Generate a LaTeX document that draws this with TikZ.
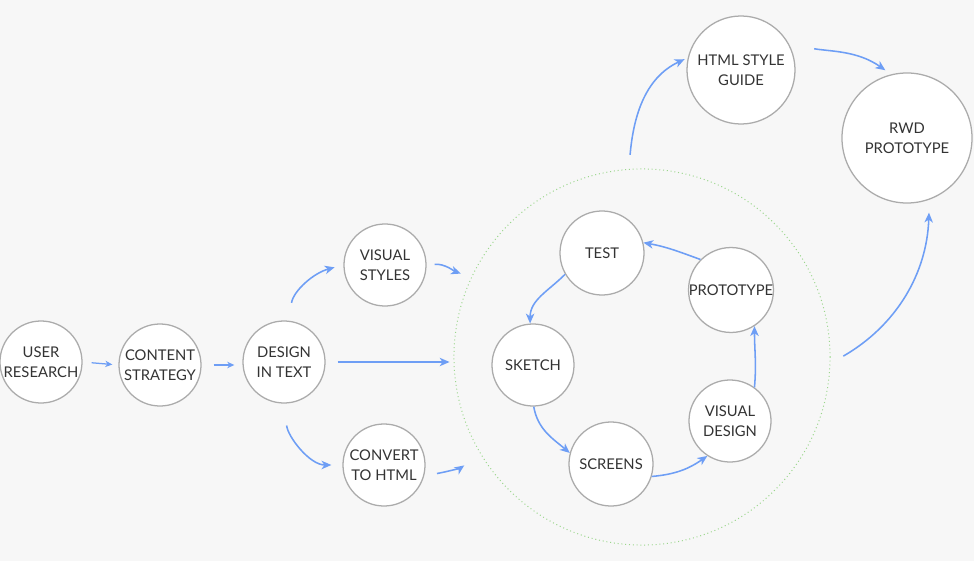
\documentclass[tikz,border=0pt]{standalone}
\usepackage{fontspec}
\setmainfont{Lato}
\usetikzlibrary{arrows.meta}
\definecolor{bg}{HTML}{F7F7F7}
\definecolor{ring}{HTML}{ABABAB}
\definecolor{flowblue}{HTML}{6E9EF5}
\definecolor{loopgreen}{HTML}{9BD68C}
\definecolor{ink}{HTML}{333333}
\begin{document}
\begin{tikzpicture}[x=0.025cm,y=0.025cm,
    stage/.style={circle,draw=ring,line width=0.9pt,fill=white,minimum size=2.05cm,
        inner sep=0pt,align=center,text=ink,font=\fontsize{10.5}{14}\selectfont},
    flow/.style={flowblue,line width=1.1pt,-{Stealth[length=7pt,width=6pt,inset=2pt]}},
    smallflow/.style={flowblue,line width=0.9pt,-{Stealth[length=5pt,width=4.5pt,inset=1.5pt]}}]
                \fill[bg] (0, 0) rectangle (974, 561);
                \useasboundingbox (0, 0) rectangle (974, 561);

                % cycle area
                \node[circle,draw=loopgreen,dotted,line width=0.7pt,minimum size=9.4cm] (loop) at (642, 204) {};

                % left chain
                \node[stage] (user) at (41, 199) {USER\\RESEARCH};
                \node[stage] (content) at (160, 196) {CONTENT\\STRATEGY};
                \node[stage] (design) at (284, 199) {DESIGN\\IN TEXT};
                \node[stage] (styles) at (385, 296) {VISUAL\\STYLES};
                \node[stage] (convert) at (384, 96) {CONVERT\\TO HTML};

                % inner cycle
                \node[stage,minimum size=2.1cm] (test) at (602, 308) {TEST};
                \node[stage] (proto) at (731, 271) {PROTOTYPE};
                \node[stage] (sketch) at (533, 196) {SKETCH};
                \node[stage,minimum size=2.1cm] (screens) at (611, 97) {SCREENS};
                \node[stage] (vdesign) at (730, 140) {VISUAL\\DESIGN};

                % results
                \node[stage,minimum size=2.7cm] (html) at (741, 491) {HTML STYLE\\GUIDE};
                \node[stage,minimum size=3.25cm] (rwd) at (907, 423) {RWD\\PROTOTYPE};

                \draw[smallflow,shorten <=6.4pt,shorten >=4.3pt] (user.east) -- (content.west);
                \draw[smallflow,shorten <=8.5pt,shorten >=5.7pt] (content.east) -- (content.east -| design.west);
                \draw[flow,shorten <=12.8pt,shorten >=6.4pt] (design.84) to[out=80,in=195] (styles.west);
                \draw[flow,shorten <=8.5pt,shorten >=2.8pt] (design.east) -- (design.east -| loop.west);
                \draw[flow,shorten <=15.6pt,shorten >=7.8pt] (design.-89) to[out=-85,in=180] (convert.west);
                \draw[flow,shorten <=5.7pt,shorten >=7.8pt] (styles.east) to[out=5,in=160] (loop.155);
                \draw[flow,shorten <=9.2pt,shorten >=14pt] (convert.-15) to[out=10,in=215] (loop.211);

                \draw[flow] (proto.135) to[out=160,in=-10] (test.14);
                \draw[flow] (test.210) to[out=225,in=90] (sketch.94);
                \draw[flow] (sketch.271) to[out=-80,in=140] (screens.165);
                \draw[flow] (screens.-17) to[out=5,in=215] (vdesign.237);
                \draw[flow] (vdesign.54) to[out=85,in=-90] (proto.303);

                \draw[flow,shorten <=10pt,shorten >=2.5pt] (loop.94) to[out=85,in=205] (html.167);
                \draw[flow,shorten <=18pt,shorten >=5pt] (html.28) to[out=-10,in=145] (rwd.104);
                \draw[flow,shorten <=10.6pt,shorten >=9.2pt] (loop.-2) to[out=30,in=-92] (rwd.290);
            \end{tikzpicture}
\end{document}
